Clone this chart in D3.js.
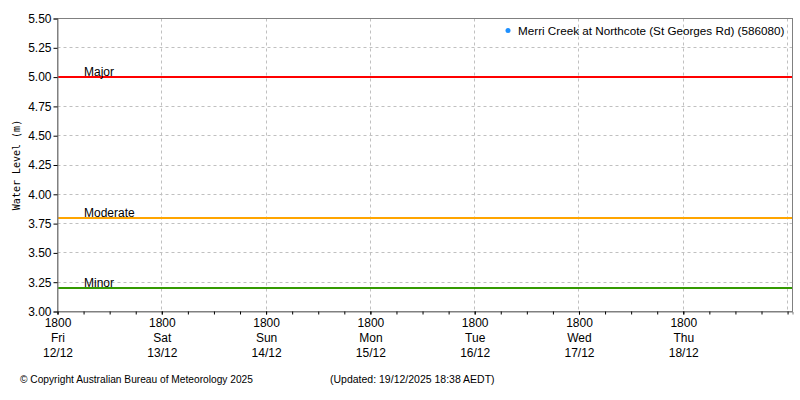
<!DOCTYPE html>
<html>
<head>
<meta charset="utf-8">
<script src="https://cdn.jsdelivr.net/npm/d3@7"></script>
<style>
  body { margin: 0; background: #fff; }
  svg text { font-family: "Liberation Sans", Arial, sans-serif; fill: #000; }
</style>
</head>
<body>
<div class="chart-container"></div>
<script>
//! DATA
const seriesName = 'Merri Creek at Northcote (St Georges Rd) (586080)';
const observations = []; // no readings shown in the window
const thresholdNames = ['Major', 'Moderate', 'Minor'];
const thresholdValues = [5.0, 3.8, 3.2];
const thresholdColors = ['#ff0000', '#ffa500', '#339900'];
const yTicks = [3.0, 3.25, 3.5, 3.75, 4.0, 4.25, 4.5, 4.75, 5.0, 5.25, 5.5];
const dayTicks = ['2025-12-12T18:00', '2025-12-13T18:00', '2025-12-14T18:00', '2025-12-15T18:00',
  '2025-12-16T18:00', '2025-12-17T18:00', '2025-12-18T18:00', '2025-12-19T18:00'];
const tickDays = ['Fri', 'Sat', 'Sun', 'Mon', 'Tue', 'Wed', 'Thu'];
const tickDates = ['12/12', '13/12', '14/12', '15/12', '16/12', '17/12', '18/12'];
const timeStart = '2025-12-12T18:00';
const timeEnd = '2025-12-19T19:08';
const copyrightText = '\u00a9 Copyright Australian Bureau of Meteorology 2025';
const updatedText = '(Updated: 19/12/2025 18:38 AEDT)';

//! CONSTS
const width = 800;
const height = 400;
const plotLeft = 57.5, plotRight = 792.5, plotTop = 18.5, plotBottom = 311.5;
const parse = d3.timeParse('%Y-%m-%dT%H:%M');

const svg = d3.select('.chart-container')
  .append('svg')
  .attr('width', width)
  .attr('height', height);

//! SCALES
const xScale = d3.scaleTime()
  .domain([parse(timeStart), parse(timeEnd)])
  .range([plotLeft, plotRight]);

const yScale = d3.scaleLinear()
  .domain([3.0, 5.5])
  .range([plotBottom, plotTop]);

const px = v => Math.round(v - 0.5) + 0.5;

//! GRID
svg.append('g')
  .selectAll('line')
  .data(yTicks.slice(1, -1))
  .enter()
  .append('line')
  .attr('x1', plotLeft).attr('x2', plotRight)
  .attr('y1', d => px(yScale(d))).attr('y2', d => px(yScale(d)))
  .attr('stroke', '#c0c0c0')
  .attr('stroke-dasharray', '3,3');

svg.append('g')
  .selectAll('line')
  .data(dayTicks.slice(1).map(parse))
  .enter()
  .append('line')
  .attr('x1', d => px(xScale(d))).attr('x2', d => px(xScale(d)))
  .attr('y1', plotTop).attr('y2', plotBottom)
  .attr('stroke', '#c0c0c0')
  .attr('stroke-dasharray', '3,3');

//! THRESHOLDS
const thr = svg.append('g')
  .selectAll('g')
  .data(thresholdValues)
  .enter()
  .append('g');

thr.append('line')
  .attr('x1', plotLeft).attr('x2', plotRight)
  .attr('y1', d => Math.round(yScale(d))).attr('y2', d => Math.round(yScale(d)))
  .attr('stroke', (d, i) => thresholdColors[i])
  .attr('stroke-width', 2);

thr.append('text')
  .attr('x', 84)
  .attr('y', d => Math.round(yScale(d)) - 1)
  .attr('font-size', 12)
  .text((d, i) => thresholdNames[i]);

//! SERIES (empty)
svg.append('path')
  .datum(observations)
  .attr('fill', 'none')
  .attr('stroke', '#1e90ff')
  .attr('d', d3.line().x(d => xScale(parse(d[0]))).y(d => yScale(d[1])));

//! FRAME
svg.append('rect')
  .attr('x', plotLeft).attr('y', plotTop)
  .attr('width', plotRight - plotLeft).attr('height', plotBottom - plotTop)
  .attr('fill', 'none')
  .attr('stroke', '#808080');

//! AXES
const yAxis = d3.axisLeft(yScale)
  .tickValues(yTicks)
  .tickFormat(d3.format('.2f'))
  .tickSize(4)
  .tickPadding(2);

const yG = svg.append('g')
  .attr('transform', `translate(${plotLeft},0)`)
  .call(yAxis);
yG.select('.domain').attr('stroke', '#808080');
yG.selectAll('.tick line').attr('stroke', '#000');
yG.selectAll('.tick text').attr('font-size', 12).attr('font-family', '"Liberation Sans", Arial, sans-serif');

const xMinor = d3.axisBottom(xScale)
  .ticks(d3.timeHour.every(6))
  .tickFormat('')
  .tickSize(3);

const xMinorG = svg.append('g')
  .attr('transform', `translate(0,${plotBottom})`)
  .call(xMinor);
xMinorG.select('.domain').attr('stroke', '#808080');
xMinorG.selectAll('.tick line').attr('stroke', '#000');

const xAxis = d3.axisBottom(xScale)
  .tickValues(dayTicks.slice(0, tickDays.length).map(parse))
  .tickFormat('')
  .tickSize(3);

const xG = svg.append('g')
  .attr('transform', `translate(0,${plotBottom})`)
  .call(xAxis);
xG.select('.domain').remove();
xG.selectAll('.tick line').attr('stroke', '#000');

const xLabels = xG.selectAll('.tick text')
  .attr('font-size', 12)
  .attr('font-family', '"Liberation Sans", Arial, sans-serif')
  .attr('y', 0)
  .attr('dy', null);

xLabels.each(function (d, i) {
  const t = d3.select(this);
  [d3.timeFormat('%H%M')(d), tickDays[i], tickDates[i]].forEach((s, k) => {
    t.append('tspan').attr('x', 0).attr('y', 15 + k * 15).text(s);
  });
});

//! Y LABEL
svg.append('text')
  .attr('transform', 'translate(20,165) rotate(-90)')
  .attr('text-anchor', 'middle')
  .attr('font-size', 10)
  .style('font-family', '"DejaVu Sans Mono", monospace')
  .text('Water Level (m)');

//! LEGEND
svg.append('circle')
  .attr('cx', 508).attr('cy', 30.5)
  .attr('r', 2.5)
  .attr('fill', '#1e90ff');

svg.append('text')
  .attr('x', 518).attr('y', 35)
  .attr('font-size', 11.7)
  .text(seriesName);

//! FOOTER
svg.append('text')
  .attr('x', 20).attr('y', 383)
  .attr('font-size', 10.2)
  .text(copyrightText);

svg.append('text')
  .attr('x', 330).attr('y', 383)
  .attr('font-size', 10.5)
  .text(updatedText);
</script>
</body>
</html>
